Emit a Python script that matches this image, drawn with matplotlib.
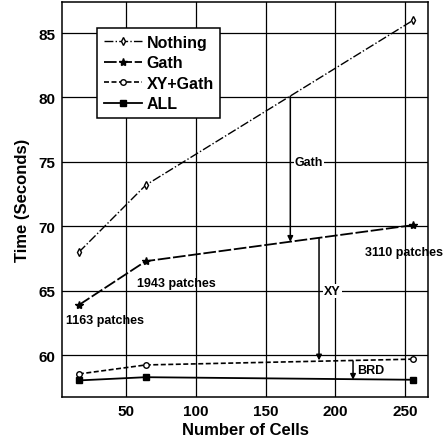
import matplotlib
matplotlib.use("Agg")
import matplotlib.pyplot as plt

# Daten
cells = [16, 64, 256]
nothing = [68.0, 73.2, 86.0]
gath = [63.9, 67.3, 70.1]
xy_gath = [58.55, 59.25, 59.7]
all_opt = [58.05, 58.3, 58.1]
patch_labels = ["1163 patches", "1943 patches", "3110 patches"]

plt.rcParams['font.family'] = ['Liberation Sans', 'DejaVu Sans']
plt.rcParams['font.weight'] = 'bold'

fig = plt.figure(figsize=(4.44, 4.39), dpi=100)
ax = fig.add_axes([0.14, 0.093, 0.824, 0.9])

ax.plot(cells, nothing, color='black', lw=1.0, ls='-.', marker='d', ms=4,
        mfc='white', label='Nothing')
ax.plot(cells, gath, color='black', lw=1.3, ls=(0, (7, 1.5)), marker='*', ms=6,
        label='Gath')
ax.plot(cells, xy_gath, color='black', lw=1.2, ls=(0, (3, 1.5)), marker='o', ms=4,
        mfc='white', label='XY+Gath')
ax.plot(cells, all_opt, color='black', lw=1.3, ls='-', marker='s', ms=4,
        label='ALL')

# Beschriftungen der Patches
ax.text(35, 62.7, patch_labels[0], fontsize=9, fontweight='bold', ha='center', va='center')
ax.text(86, 65.6, patch_labels[1], fontsize=9, fontweight='bold', ha='center', va='center')
ax.text(249, 68.0, patch_labels[2], fontsize=9, fontweight='bold', ha='center',
        va='center', clip_on=False)

# Pfeile zwischen den Kurven
def pfeil(x, y0, y1):
    ax.annotate('', xy=(x, y1), xytext=(x, y0),
                arrowprops=dict(arrowstyle='-|>', color='black', lw=1.1,
                                mutation_scale=8, shrinkA=0, shrinkB=0))

pfeil(167.7, 80.1, 68.8)
pfeil(188.3, 69.1, 59.6)
pfeil(212.7, 59.55, 58.1)

bbox = dict(facecolor='white', edgecolor='none', pad=0.5)
ax.text(181, 75, 'Gath', fontsize=9, fontweight='bold', ha='center', va='center', bbox=bbox)
ax.text(198, 65, 'XY', fontsize=9, fontweight='bold', ha='center', va='center', bbox=bbox)
ax.text(215.5, 58.85, 'BRD', fontsize=9, fontweight='bold', ha='left', va='center')

ax.set_xlim(4, 266.5)
ax.set_ylim(56.75, 87.4)
ax.set_xticks([50, 100, 150, 200, 250])
ax.set_yticks([60, 65, 70, 75, 80, 85])
ax.tick_params(length=0, labelsize=11, pad=5)
for lab in ax.get_xticklabels() + ax.get_yticklabels():
    lab.set_fontweight('bold')
ax.grid(True, color='black', lw=0.9)
ax.set_axisbelow(True)
for s in ax.spines.values():
    s.set_linewidth(1.1)

ax.set_xlabel('Number of Cells', fontsize=12, fontweight='bold', labelpad=3)
ax.set_ylabel('Time (Seconds)', fontsize=12, fontweight='bold', labelpad=6)

leg = ax.legend(loc='upper left', bbox_to_anchor=(0.0956, 0.934), borderaxespad=0,
                fontsize=11.5, frameon=True, fancybox=False, edgecolor='black',
                framealpha=1, handlelength=2.4, handletextpad=0.3, borderpad=0.4,
                labelspacing=0.35)
leg.get_frame().set_linewidth(1.1)
for t in leg.get_texts():
    t.set_fontweight('bold')

fig.savefig('out.png', dpi=100)
